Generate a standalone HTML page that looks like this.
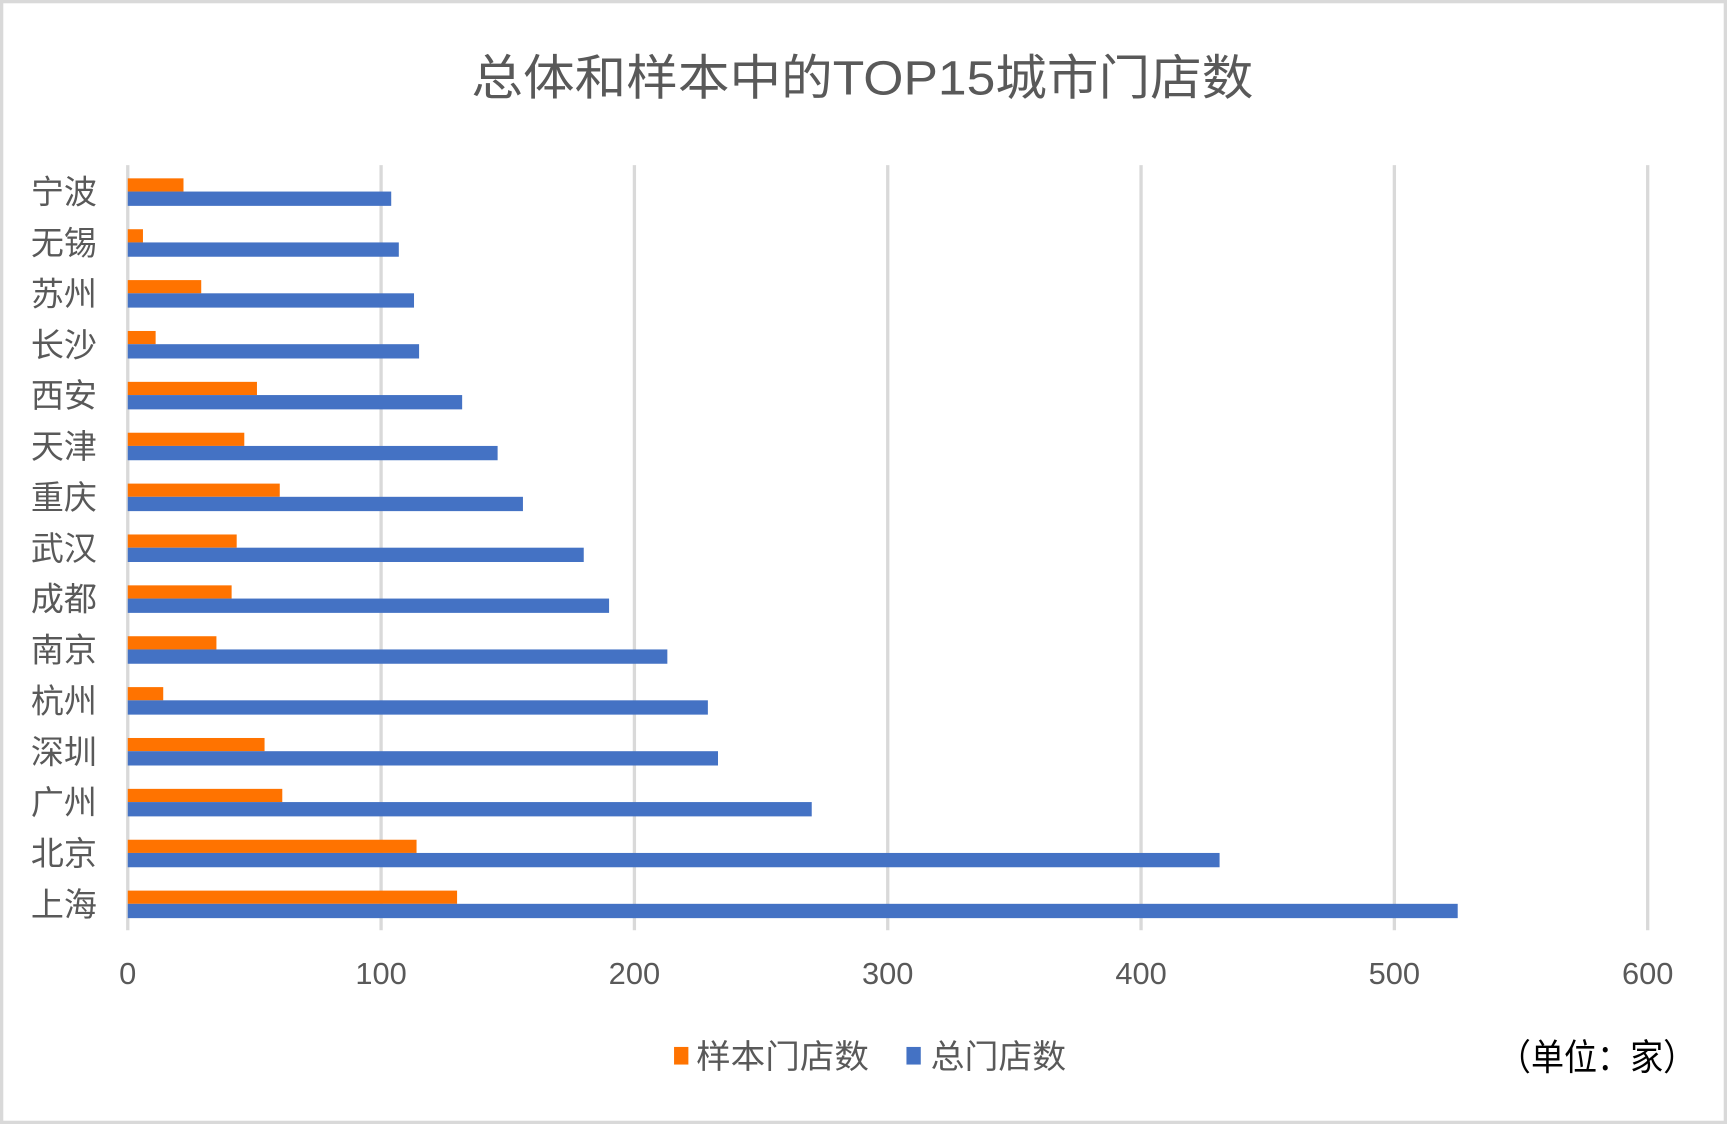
<!DOCTYPE html>
<html><head><meta charset="utf-8"><style>
html,body{margin:0;padding:0;background:#fff;}
svg{display:block;}
text{font-family:"Liberation Sans","Noto Sans CJK SC",sans-serif;}
</style></head><body>
<svg id="chart" width="1727" height="1124" viewBox="0 0 1568 1021" preserveAspectRatio="none" xmlns="http://www.w3.org/2000/svg">
<rect x="1.5" y="1.5" width="1565" height="1018" fill="#fff" stroke="#d9d9d9" stroke-width="3"/>
<text x="428" y="86" font-size="44" fill="#595959" textLength="710" lengthAdjust="spacingAndGlyphs">总体和样本中的TOP15城市门店数</text>
<g id="grid"></g>
<g id="bars"></g>
<g id="ylabels"></g>
<g id="xlabels"></g>
<g>
<g><rect x="612" y="951" width="13" height="16" fill="#ff7300"/><text x="632" y="970" font-size="30" fill="#595959" textLength="157" lengthAdjust="spacingAndGlyphs">样本门店数</text></g>
<g><rect x="823" y="951" width="13" height="16" fill="#4472c4"/><text x="845" y="970" font-size="30" fill="#595959" textLength="123" lengthAdjust="spacingAndGlyphs">总门店数</text></g>
</g>
<text x="1360" y="972" font-size="33" fill="#000" textLength="180" lengthAdjust="spacingAndGlyphs">（单位：家）</text>
</svg>
<script>
const categories = ["宁波","无锡","苏州","长沙","西安","天津","重庆","武汉","成都","南京","杭州","深圳","广州","北京","上海"];
const sampleValues = [22,6,29,11,51,46,60,43,41,35,14,54,61,114,130];
const totalValues = [104,107,113,115,132,146,156,180,190,213,229,233,270,431,525];
const xTicks = [0,100,200,300,400,500,600];
const NS="http://www.w3.org/2000/svg";
const x0=116,x1=1496,xMax=600,yTop=174,yStep=(821-174)/14;
function xs(v){return x0+(x1-x0)*v/xMax;}
function yc(i){return yTop+yStep*i;}
function mk(tag,attrs,parent){const e=document.createElementNS(NS,tag);for(const k in attrs)e.setAttribute(k,attrs[k]);parent.appendChild(e);return e;}
const grid=document.getElementById('grid'),bars=document.getElementById('bars'),yl=document.getElementById('ylabels'),xl=document.getElementById('xlabels');
xTicks.forEach(t=>{
  const l=mk('line',{x1:xs(t),x2:xs(t),y1:150,y2:845,stroke:'#d9d9d9','stroke-width':3},grid);
  
  
  const tx=mk('text',{x:xs(t),y:894,'font-size':28,fill:'#595959','text-anchor':'middle'},xl);
  
  
  tx.textContent=t;
});
categories.forEach((c,i)=>{
  const cy=yc(i);
  const o=mk('rect',{x:x0,y:cy-12,width:xs(sampleValues[i])-x0,height:12,fill:'#ff7300'},bars);
  
  
  const b=mk('rect',{x:x0,y:cy,width:xs(totalValues[i])-x0,height:13,fill:'#4472c4'},bars);
  
  
  const t=mk('text',{x:88,y:cy+11,'font-size':30,fill:'#595959','text-anchor':'end'},yl);
  
  
  t.textContent=c;
});
</script>
</body></html>
